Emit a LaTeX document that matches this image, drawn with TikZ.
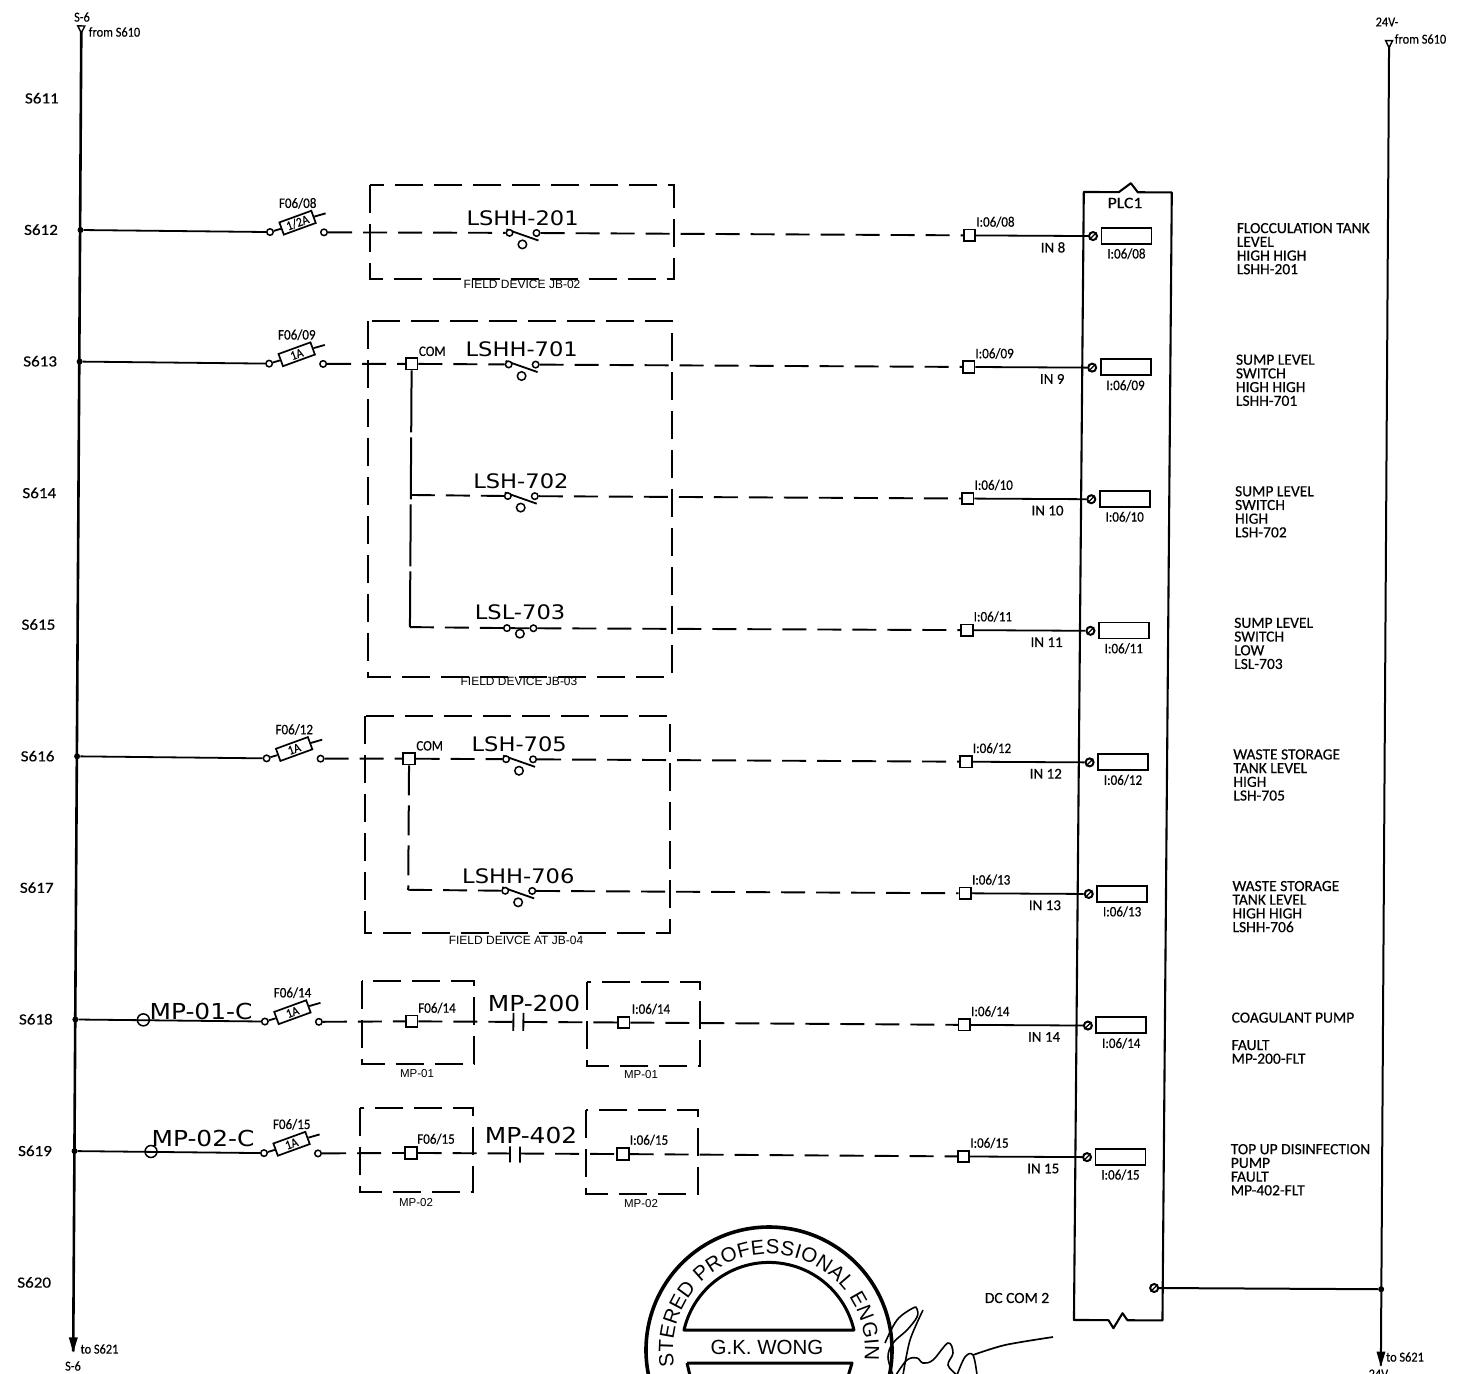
\documentclass[tikz,border=0pt]{standalone}
\usepackage{fontspec}
\usetikzlibrary{decorations.text}
\newfontfamily\cond[FakeStretch=0.9,FakeBold=0.35]{Carlito}
\newfontfamily\condw[FakeStretch=1.0,FakeBold=0.35]{Carlito}
\newfontfamily\condx[FakeStretch=1.1,FakeBold=0.35]{Carlito}
\newfontfamily\wide[FakeStretch=1.13]{DejaVu Sans}
\newfontfamily\arial{Liberation Sans}
\tikzset{
  rect/.style={x={(1pt,-0.0055pt)},y={(-0.0065pt,-1pt)}},
  wire/.style={line width=1.8pt,black},
  dwire/.style={line width=1.9pt,dash pattern=on 24pt off 11pt},
  boxd/.style={line width=2.1pt,dash pattern=on 28pt off 11pt},
  opn/.style={circle,draw,line width=1.5pt,fill=white,inner sep=0pt,minimum size=6.5pt},
  opnb/.style={circle,draw,line width=1.5pt,fill=white,inner sep=0pt,minimum size=8.5pt},
  dot/.style={circle,fill=black,inner sep=0pt,minimum size=6pt},
  sqr/.style={rectangle,draw,line width=1.7pt,fill=white,inner sep=0pt,minimum size=11.5pt},
  term/.style={circle,draw,line width=2pt,fill=white,inner sep=0pt,minimum size=8pt},
  plcbox/.style={rectangle,draw,line width=1.8pt,inner sep=0pt,minimum width=50pt,minimum height=16pt},
  fusebox/.style={rectangle,draw,line width=1.7pt,fill=white,inner sep=0pt,minimum width=34pt,minimum height=13pt,rotate=20,font=\cond\fontsize{13}{13}\selectfont},
  small/.style={inner sep=0pt,font=\cond\fontsize{14.5}{14.5}\selectfont},
  inlab/.style={inner sep=0pt,anchor=east,font=\condw\fontsize{15}{15}\selectfont},
  note/.style={inner sep=0pt,font=\cond\fontsize{13.7}{14}\selectfont},
  comlab/.style={inner sep=0pt,anchor=west,font=\cond\fontsize{14.5}{14.5}\selectfont},
  desc/.style={inner sep=0pt,anchor=north west,align=left,font=\condw\fontsize{15.5}{13.7}\selectfont},
  rowlab/.style={inner sep=0pt,font=\condx\fontsize{15.5}{16}\selectfont},
  tag/.style={inner sep=0pt,font=\wide\fontsize{20}{20}\selectfont},
  tagb/.style={inner sep=0pt,font=\wide\fontsize{22}{22}\selectfont},
  capa/.style={inner sep=0pt,font=\arial\fontsize{12}{12}\selectfont},
  capb/.style={inner sep=0pt,font=\arial\fontsize{11.5}{12}\selectfont},
}
% id, Y, io label, IN label, description
\newcommand\inputrow[5]{%
  \begin{scope}[rect,shift={(0,#2)}]
    \node[sqr] (sq#1) at (971,0.5) {};
    \node[term] (t#1) at (1094.5,0.5) {};
    \draw[line width=1.2pt] (t#1.south west) -- (t#1.north east);
    \node[plcbox] (r#1) at (1128,0) {};
    \node[small,anchor=west] (io#1) at (977.5,-13) {#3};
    \node[small] (iu#1) at (1128,18) {#3};
    \node[inlab] (in#1) at (1067,12) {#4};
    \node[desc] (d#1) at (1238,-13.5) {#5};
    \draw[wire] (sq#1) -- (t#1);
  \end{scope}}
% id, Y, fuse label, rating
\newcommand\fuserow[4]{%
  \begin{scope}[rect,shift={(0,#2)}]
    \node[dot] (bus#1) at (82,0) {};
    \node[opn] (fl#1) at (271.5,1) {};
    \node[opn] (fr#1) at (325.5,1) {};
    \node[fusebox] (fu#1) at (299,-8.5) {#4};
    \coordinate (ft#1) at (327,-18);
    \node[small] (fn#1) at (299,-28) {#3};
    \draw[wire] (bus#1) -- (fl#1);
    \draw[wire] (fl#1) -- (fu#1.west);
    \draw[wire] (fu#1.east) -- (ft#1);
  \end{scope}}
% contact: id, Y, label
\newcommand\contact[3]{%
  \begin{scope}[rect,shift={(0,#2)}]
    \node[tag] (tg#1) at (524,-14.5) {#3};
    \coordinate (da#1) at (508,-3);
    \coordinate (db#1) at (540,8);
    \draw[wire] (da#1) -- (db#1);
    \node[opn] (cl#1) at (511,0.5) {};
    \node[opn] (cr#1) at (538,0.5) {};
    \node[opnb] (cb#1) at (524,12) {};
  \end{scope}}
\begin{document}
\begin{tikzpicture}[x=1pt,y=-1pt]
\useasboundingbox (0,0) rectangle (1469,1373);
\clip (0,0) rectangle (1469,1373);
\fill[white] (0,0) rectangle (1469,1373);

% buses
\begin{scope}[rect]
  \coordinate (ltop) at (81.5,27.5);
  \coordinate (lbot) at (82,1351);
  \coordinate (rtop) at (1389.3,35);
  \coordinate (rbot) at (1389.7,1358);
  \draw[line width=2.6pt] (ltop) -- (lbot);
  \draw[line width=2pt] (rtop) -- (rbot);
  \draw[line width=1.4pt,fill=white] (ltop) ++(-3.5,-2) -- ++(7,0) -- ++(-3.5,7) -- cycle;
  \draw[line width=1.4pt,fill=white] (rtop) ++(-3.5,-2) -- ++(7,0) -- ++(-3.5,7) -- cycle;
  \fill (lbot) ++(-4.5,-14) -- ++(9,0) -- ++(-4.5,15) -- cycle;
  \fill (rbot) ++(-4.5,-14) -- ++(9,0) -- ++(-4.5,15) -- cycle;

  % sheet row labels
  \foreach \n/\yy in {611/98,612/229.5,613/361,614/492.7,615/624.3,616/755.9,617/887.4,618/1019,619/1150.6,620/1282.2}
    \node[rowlab] (row\n) at (42.5,\yy) {S\n};

  % PLC frame
  \coordinate (pa) at (1085,186);
  \coordinate (pb) at (1120,186);
  \coordinate (pc) at (1132,177);
  \coordinate (pd) at (1139,186);
  \coordinate (pe) at (1173,186);
  \coordinate (pf) at (1171,1314);
  \coordinate (pg) at (1136,1314);
  \coordinate (ph) at (1131,1307);
  \coordinate (pi) at (1122,1322);
  \coordinate (pj) at (1117,1314);
  \coordinate (pk) at (1082.5,1314);
  \draw[line width=2.1pt,line join=round] (pa) -- (pb) -- (pc) -- (pd) -- (pe) -- (pf) -- (pg) -- (ph) -- (pi) -- (pj) -- (pk) -- cycle;
\end{scope}
\node[inner sep=0pt,font=\condx\fontsize{16}{16}\selectfont] (plc) at (1125,203) {PLC1};

% common return
\begin{scope}[rect]
  \node[term] (tcom) at (1162.5,1281.6) {};
  \draw[line width=1.2pt] (tcom.south west) -- (tcom.north east);
  \node[dot] (rj) at (1389.5,1281.6) {};
  \draw[line width=2pt] (tcom) -- (rj);
\end{scope}

% rungs
\fuserow{612}{229.55}{F06/08}{1/2A}
\fuserow{613}{361.13}{F06/09}{1A}
\fuserow{616}{755.87}{F06/12}{1A}
\fuserow{618}{1019.03}{F06/14}{1A}
\fuserow{619}{1150.61}{F06/15}{1A}
\inputrow{612}{229.55}{I:06/08}{IN 8}{FLOCCULATION TANK\\LEVEL\\HIGH HIGH\\LSHH-201}
\inputrow{613}{361.13}{I:06/09}{IN 9}{SUMP LEVEL\\SWITCH\\HIGH HIGH\\LSHH-701}
\inputrow{614}{492.71}{I:06/10}{IN 10}{SUMP LEVEL\\SWITCH\\HIGH\\LSH-702}
\inputrow{615}{624.29}{I:06/11}{IN 11}{SUMP LEVEL\\SWITCH\\LOW\\LSL-703}
\inputrow{616}{755.87}{I:06/12}{IN 12}{WASTE STORAGE\\TANK LEVEL\\HIGH\\LSH-705}
\inputrow{617}{887.45}{I:06/13}{IN 13}{WASTE STORAGE\\TANK LEVEL\\HIGH HIGH\\LSHH-706}
\inputrow{618}{1019.03}{I:06/14}{IN 14}{COAGULANT PUMP\\[13.7pt]FAULT\\MP-200-FLT}
\inputrow{619}{1150.61}{I:06/15}{IN 15}{TOP UP DISINFECTION\\PUMP\\FAULT\\MP-402-FLT}

% contacts
\contact{612}{229.55}{LSHH-201}
\contact{613}{361.13}{LSHH-701}
\contact{614}{492.71}{LSH-702}
\contact{616}{755.87}{LSH-705}
\contact{617}{887.45}{LSHH-706}
\begin{scope}[rect,shift={(0,624.29)}]
  \node[tag] (tg615) at (524,-14.5) {LSL-703};
  \node[opn] (cl615) at (511,1) {};
  \node[opn] (cr615) at (537.5,1) {};
  \draw[wire] (cl615) -- (cr615);
  \node[opnb] (cb615) at (524,6.5) {};
\end{scope}

% COM blocks
\begin{scope}[rect]
  \node[sqr] (com613) at (414,361.6) {};
  \node[comlab] (coml613) at (421,349) {COM};
  \coordinate (j614) at (414,492.7);
  \coordinate (j615) at (414,624.8);
  \node[sqr] (com616) at (414,756.4) {};
  \node[comlab] (coml616) at (421,743.5) {COM};
  \coordinate (j617) at (414,887.5);
\end{scope}
\draw[line width=2pt,dash pattern=on 62pt off 5pt] (com613) -- (j615);
\draw[line width=2pt,dash pattern=on 30pt off 10pt] (com616) -- (j617);

% dashed wiring
\draw[dwire] (fr612) -- (cl612);
\draw[dwire] (cr612) -- (sq612);
\draw[dwire] (fr613) -- (com613);
\draw[dwire] (com613) -- (cl613);
\draw[dwire] (cr613) -- (sq613);
\draw[dwire] (j614) -- (cl614);
\draw[dwire] (cr614) -- (sq614);
\draw[dwire] (j615) -- (cl615);
\draw[dwire] (cr615) -- (sq615);
\draw[dwire] (fr616) -- (com616);
\draw[dwire] (com616) -- (cl616);
\draw[dwire] (cr616) -- (sq616);
\draw[dwire] (j617) -- (cl617);
\draw[dwire] (cr617) -- (sq617);

% dashed boxes
\begin{scope}[rect]
  \draw[boxd] (371.5,183) rectangle (675.5,275);
  \draw[boxd] (370,319) rectangle (676,673);
  \draw[boxd] (370,714) rectangle (676,929);
  \draw[boxd] (368.5,978.7) rectangle (480.5,1061.7);
  \draw[boxd] (593.5,978.5) rectangle (706.5,1062.5);
  \draw[boxd] (367.5,1105.7) rectangle (480.5,1189.7);
  \draw[boxd] (593.5,1106.5) rectangle (705.5,1190.5);
\end{scope}
\node[capa] (fd1) at (522,284) {FIELD DEVICE JB-02};
\node[capa] (fd2) at (519,681) {FIELD DEVICE JB-03};
\node[capa] (fd3) at (516,940) {FIELD DEIVCE AT JB-04};
\node[capb] (m1a) at (417,1074) {MP-01};
\node[capb] (m1b) at (641,1075) {MP-01};
\node[capb] (m2a) at (416,1203) {MP-02};
\node[capb] (m2b) at (641,1204) {MP-02};

% motor rows
\begin{scope}[rect,shift={(0,1019.03)}]
  \node[circle,draw,line width=1.5pt,inner sep=0pt,minimum size=12pt] (mc618) at (150,0) {};
  \node[sqr] (ia618) at (418.5,0) {};
  \node[sqr] (ib618) at (630.5,0) {};
  \coordinate (p1a) at (520,-9); \coordinate (p1b) at (520,9);
  \coordinate (p1m) at (520,0);
  \coordinate (p2a) at (530,-9); \coordinate (p2b) at (530,9);
  \coordinate (p2m) at (530,0);
  \draw[line width=1.8pt] (p1a) -- (p1b);
  \draw[line width=1.8pt] (p2a) -- (p2b);
  \draw[dwire] (fr618) -- (ia618);
  \draw[dwire] (ia618) -- (p1m);
  \draw[dwire] (p2m) -- (ib618);
  \draw[dwire] (ib618) -- (sq618);
\end{scope}
\begin{scope}[rect,shift={(0,1150.61)}]
  \node[circle,draw,line width=1.5pt,inner sep=0pt,minimum size=12pt] (mc619) at (158.5,0) {};
  \node[sqr] (ia619) at (418.5,0) {};
  \node[sqr] (ib619) at (630.5,0) {};
  \coordinate (q1a) at (517.5,-7); \coordinate (q1b) at (517.5,9);
  \coordinate (q1m) at (517.5,0);
  \coordinate (q2a) at (527.5,-7); \coordinate (q2b) at (527.5,9);
  \coordinate (q2m) at (527.5,0);
  \draw[line width=1.8pt] (q1a) -- (q1b);
  \draw[line width=1.8pt] (q2a) -- (q2b);
  \draw[dwire] (fr619) -- (ia619);
  \draw[dwire] (ia619) -- (q1m);
  \draw[dwire] (q2m) -- (ib619);
  \draw[dwire] (ib619) -- (sq619);
\end{scope}
\node[tagb] (mpc1) at (201,1011) {MP-01-C};
\node[tagb] (mpc2) at (203,1138) {MP-02-C};
\node[tagb] (mp200) at (534,1003) {MP-200};
\node[tagb] (mp402) at (531,1135) {MP-402};
\node[small] (l1) at (437,1008) {F06/14};
\node[small] (l2) at (651,1009) {I:06/14};
\node[small] (l3) at (436,1139) {F06/15};
\node[small] (l4) at (649,1140) {I:06/15};

% sheet notes
\node[note] (a1) at (82,17) {S-6};
\node[note] (a2) at (114.5,32) {from S610};
\node[note] (a3) at (1387,22) {24V-};
\node[note] (a4) at (1420.5,39) {from S610};
\node[note] (a5) at (99.5,1349) {to S621};
\node[note] (a6) at (73,1366) {S-6};
\node[note] (a7) at (1405,1357) {to S621};
\node[note] (a8) at (1380,1374) {24V-};
\node[inner sep=0pt,font=\condw\fontsize{15.5}{16}\selectfont] (a9) at (1017,1298) {DC COM 2};

% seal
\begin{scope}[shift={(769,1350)},x=1pt,y=1pt]
  \coordinate (sc) at (0,0);
  \draw[line width=3.6pt] (sc) circle (123);
  \draw[line width=3pt,line join=round] (-85,20) arc (167:13:87.2) -- cycle;
  \draw[line width=3pt,line join=round] (-82,-13) -- (83,-13) -- (78,-30);
  \draw[line width=3pt] (-82,-13) -- (-78,-30);
  \path[decorate,decoration={text along path,text align={fit to path},
     text={|\arial\fontsize{20.5}{21}\selectfont|STERED PROFESSIONAL ENGIN}}]
     (190:96) arc (190:-6:96);
  \node[inner sep=0pt,font=\arial\fontsize{20.5}{21}\selectfont] (gk) at (-2,3) {G.K. WONG};
\end{scope}

% signature
\draw[line width=1.6pt] plot[smooth,tension=0.6] coordinates {(885,1343) (897,1320) (913,1308) (917,1309) (917,1317) (907,1330) (893,1343) (888,1357) (893,1375)};
\draw[line width=1.6pt] plot[smooth,tension=0.5] coordinates {(923,1310) (910,1340) (903,1375)};
\draw[line width=1.6pt] plot[smooth,tension=0.6] coordinates {(896,1375) (907,1360) (917,1358) (923,1363) (933,1360) (948,1343) (953,1353) (948,1365) (957,1375)};
\draw[line width=1.6pt] plot[smooth,tension=0.6] coordinates {(957,1375) (965,1357) (973,1355) (977,1375)};
\draw[line width=1.7pt] plot[smooth,tension=0.5] coordinates {(973,1355) (1005,1345) (1053,1337)};
\end{tikzpicture}
\end{document}
